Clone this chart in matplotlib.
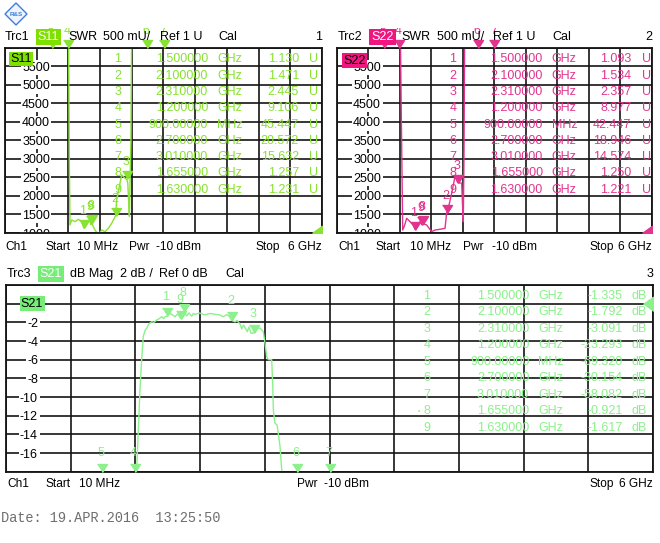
import numpy as np
import matplotlib.pyplot as plt
from matplotlib.patches import Polygon
from matplotlib.transforms import Bbox, TransformedBbox, IdentityTransform

plt.rcParams['font.family'] = ['Liberation Sans', 'DejaVu Sans']

W, H = 660, 543
fig = plt.figure(figsize=(W / 100, H / 100), dpi=100)
fig.patch.set_facecolor('white')

# sweep: 10 MHz .. 6 GHz
f_start, f_stop = 0.01, 6.0

# S11 SWR trace (GHz, mU)
s11_freq = [0.01, 0.5, 0.9, 1.1, 1.2, 1.225, 1.238, 1.27, 1.333, 1.395, 1.459, 1.5,
            1.554, 1.616, 1.63, 1.655, 1.679, 1.71, 1.773, 1.837, 1.9, 1.962, 2.026,
            2.1, 2.12, 2.183, 2.215, 2.26, 2.31, 2.33, 2.345, 2.36, 2.39, 2.41, 2.5,
            2.7, 3.01, 4.0, 6.0]
s11_swr = [80000, 60000, 45447, 20000, 9106, 3000, 1217, 1352, 1306, 1370, 1306, 1130,
           1280, 1333, 1231, 1257, 1170, 1081, 960, 1081, 1035, 1127, 1263,
           1471, 1894, 2346, 2571, 2500, 2445, 2346, 1894, 1450, 3500, 8000, 40000,
           20572, 15632, 40000, 60000]

# S22 SWR trace (GHz, mU)
s22_freq = [0.01, 0.5, 0.9, 1.1, 1.2, 1.24, 1.265, 1.3, 1.341, 1.404, 1.467, 1.5,
            1.55, 1.594, 1.63, 1.655, 1.72, 1.816, 1.879, 1.974, 2.07, 2.1, 2.132,
            2.197, 2.26, 2.31, 2.387, 2.406, 2.417, 2.43, 2.45, 2.7, 3.01, 4.0, 6.0]
s22_swr = [80000, 60000, 42447, 20000, 8977, 4000, 1081, 1200, 1398, 1306, 1217, 1093,
           1200, 1306, 1221, 1250, 1217, 1035, 1081, 1100, 1127, 1534, 1669,
           2075, 2525, 2357, 2346, 1623, 1306, 3000, 8000, 18946, 14574, 40000, 60000]

# S21 trace (GHz, dB)
s21_freq = [0.01, 0.5, 0.9, 1.1, 1.2, 1.23, 1.25, 1.266, 1.281, 1.30, 1.313, 1.33,
            1.359, 1.38, 1.405, 1.43, 1.451, 1.47, 1.482, 1.5, 1.528, 1.55, 1.575,
            1.60, 1.63, 1.655, 1.683, 1.705, 1.729, 1.745, 1.76, 1.8, 1.85, 1.9,
            1.95, 1.99, 2.02, 2.05, 2.07, 2.1, 2.13, 2.15, 2.177, 2.192, 2.21,
            2.244, 2.26, 2.28, 2.31, 2.33, 2.362, 2.392, 2.408, 2.424, 2.44, 2.47,
            2.48, 2.485, 2.5, 2.52, 2.547, 2.565, 2.7, 3.01, 4.0, 6.0]
s21_db = [-75, -72, -69.3, -40, -23.3, -15, -9.3, -6.0, -3.5, -2.8, -2.64, -2.2,
          -1.93, -2.0, -1.75, -1.6, -1.39, -1.6, -1.4, -1.335, -1.03, -1.2, -1.39,
          -1.1, -1.617, -0.921, -1.3, -1.0, -1.35, -1.05, -1.15, -1.0, -1.2, -1.05,
          -1.15, -1.2, -1.4, -1.2, -1.25, -1.792, -1.95, -1.8, -2.2, -2.7, -2.3,
          -3.0, -2.5, -3.2, -3.091, -2.7, -2.6, -3.0, -4.25, -5.7, -6.0, -6.0,
          -8.9, -11.4, -12.8, -13.0, -15.3, -18.2, -30.15, -58.08, -70, -75]

# marker table
marker_freq = [1.5, 2.1, 2.31, 1.2, 0.9, 2.7, 3.01, 1.655, 1.63]
marker_freq_txt = ['1.500000', '2.100000', '2.310000', '1.200000', '900.00000',
                   '2.700000', '3.010000', '1.655000', '1.630000']
marker_unit = ['GHz', 'GHz', 'GHz', 'GHz', 'MHz', 'GHz', 'GHz', 'GHz', 'GHz']
s11_marker_val = [1.130, 1.471, 2.445, 9.106, 45.447, 20.572, 15.632, 1.257, 1.231]
s22_marker_val = [1.093, 1.534, 2.357, 8.977, 42.447, 18.946, 14.574, 1.250, 1.221]
s21_marker_val = [-1.335, -1.792, -3.091, -23.293, -69.320, -30.154, -58.082, -0.921, -1.617]

swr_ticks = [1000, 1500, 2000, 2500, 3000, 3500, 4000, 4500, 5000, 5500, 6000]
swr_labels = ['1000', '1500', '2000', '2500', '3000', '3500', '4000', '4500', '5000', '5500', '']
db_ticks = [-18, -16, -14, -12, -10, -8, -6, -4, -2, 0, 2]
db_labels = ['', '-16', '-14', '-12', '-10', '-8', '-6', '-4', '-2', '0', '']

GREEN = '#88e232'
GREEN_BOX = '#7fe000'
PINK = '#e2348e'
PINK_BOX = '#f0167f'
MINT = '#8cf08c'
MINT_BOX = '#78ec78'
GRID = '#141414'
FS = 9

TRI = [(-1, 1.6), (1, 1.6), (0, 0)]        # tip at data point
REF = [(0, -1), (0, 1), (-1.4, 0)]          # ref arrow at right edge


def P(x, y):
    return x / W, 1 - y / H


def txt(x, y, s, ha='left', color='black', **kw):
    fig.text(*P(x, y), s, ha=ha, va='center', color=color, fontsize=kw.pop('fontsize', FS), **kw)


def panel(x0, y0, x1, y1, ticks, labels, lab_right):
    ax = fig.add_axes([x0 / W, 1 - y1 / H, (x1 - x0) / W, (y1 - y0) / H])
    ax.set_xlim(f_start, f_stop)
    ax.set_ylim(ticks[0], ticks[-1])
    ax.set_xticks(np.linspace(f_start, f_stop, 11))
    ax.set_yticks(ticks, labels)
    ax.grid(True, color=GRID, lw=1.2)
    ax.set_axisbelow(True)
    ax.tick_params(length=0, labelbottom=False, labelleft=True,
                   pad=-(lab_right - x0) * 0.72, labelsize=FS)
    for s in ax.spines.values():
        s.set_color(GRID)
        s.set_linewidth(1.3)
    for t in ax.yaxis.get_major_ticks():
        t.label1.set_bbox(dict(boxstyle='square,pad=0.12', fc='white', ec='none'))
        t.label1.set_clip_box(ax.bbox)
        t.label1.set_clip_on(True)
    return ax


def markers(ax, vals, color, dy, top_clip=None):
    lo, hi = ax.get_ylim()
    my = np.clip(vals, lo, hi)
    ax.plot(marker_freq, my, ls='none', marker=TRI, ms=11.5, color=color,
            clip_on=False, zorder=4)
    for i, (f, v) in enumerate(zip(marker_freq, my)):
        t = ax.annotate(str(i + 1), (f, v), xytext=(-1, dy), textcoords='offset pixels',
                        ha='center', va='center', color=color, fontsize=FS,
                        annotation_clip=False, zorder=4)
        if top_clip is not None and v >= hi:
            t.set_clip_box(TransformedBbox(Bbox([[0, H - 48], [W, H - top_clip]]),
                                           IdentityTransform()))
            t.set_clip_on(True)


def table(rows_y0, dy, cols, vals, unit, color):
    cn, cf, cu, cv, cu2 = cols
    for i in range(len(marker_freq)):
        y = rows_y0 + dy * i
        txt(cn, y, str(i + 1), ha='center', color=color)
        txt(cf, y, marker_freq_txt[i], ha='right', color=color)
        txt(cu, y, marker_unit[i], color=color)
        txt(cv, y, f'{vals[i]:.3f}', ha='right', color=color)
        txt(cu2, y, unit, color=color)


# ---- top left: S11 SWR
ax1 = panel(5, 47.7, 322, 233, swr_ticks, swr_labels, 50)
ax1.plot(s11_freq, s11_swr, color=GREEN, lw=1.0, zorder=2)
markers(ax1, np.array(s11_marker_val) * 1000, GREEN, 17, top_clip=28)
ax1.plot([f_stop], [1000], ls='none', marker=REF, ms=14.4, color=GREEN, zorder=4)
ax1.text(0.018, 0.94, 'S11', transform=ax1.transAxes, ha='left', va='center', fontsize=FS,
         bbox=dict(boxstyle='square,pad=0.1', fc=GREEN_BOX, ec='none'), zorder=6)
table(59.3, 16.3, (118, 208, 217, 299, 308.5), s11_marker_val, 'U', GREEN)

# ---- top right: S22 SWR
ax2 = panel(336.7, 47.7, 651.7, 233, swr_ticks, swr_labels, 381)
ax2.plot(s22_freq, s22_swr, color=PINK, lw=1.0, zorder=2)
markers(ax2, np.array(s22_marker_val) * 1000, PINK, 17, top_clip=28)
ax2.plot([f_stop], [1000], ls='none', marker=REF, ms=14.4, color=PINK, zorder=4)
ax2.text(0.022, 0.93, 'S22', transform=ax2.transAxes, ha='left', va='center', fontsize=FS,
         bbox=dict(boxstyle='square,pad=0.1', fc=PINK_BOX, ec='none'), zorder=6)
table(59.3, 16.3, (452.7, 542.7, 551.7, 631.5, 642), s22_marker_val, 'U', PINK)

# ---- bottom: S21 dB Mag
ax3 = panel(6, 285, 653, 471.7, db_ticks, db_labels, 38)
ax3.plot(s21_freq, s21_db, color=MINT, lw=1.0, zorder=2)
markers(ax3, s21_marker_val, MINT, 19)
ax3.plot([f_stop], [0], ls='none', marker=REF, ms=14.4, color=MINT, zorder=4)
ax3.text(0.023, 0.9, 'S21', transform=ax3.transAxes, ha='left', va='center', fontsize=FS,
         bbox=dict(boxstyle='square,pad=0.1', fc=MINT_BOX, ec='none'), zorder=6)
table(295.7, 16.5, (426.7, 529.3, 538, 622.7, 631.7), s21_marker_val, 'dB', MINT)
txt(418.5, 295.7 + 16.5 * 7, '•', ha='center', color=MINT, fontsize=5)

# ---- headers
box = lambda c: dict(boxstyle='square,pad=0.15', fc=c, ec='none')
txt(5, 37, 'Trc1')
txt(48.3, 37, 'S11', ha='center', color='white', bbox=box(GREEN_BOX))
txt(68, 37, 'SWR')
txt(103, 37, '500 mU/')
txt(160, 37, 'Ref 1 U')
txt(218, 37, 'Cal')
txt(322, 37, '1', ha='right')

txt(338, 37, 'Trc2')
txt(382.5, 37, 'S22', ha='center', color='white', bbox=box(PINK_BOX))
txt(401.7, 37, 'SWR')
txt(436.7, 37, '500 mU/')
txt(493, 37, 'Ref 1 U')
txt(552.7, 37, 'Cal')
txt(652, 37, '2', ha='right')

txt(7, 274, 'Trc3')
txt(51, 274, 'S21', ha='center', color='white', bbox=box(MINT_BOX))
txt(70, 274, 'dB Mag')
txt(120, 274, '2 dB /')
txt(159, 274, 'Ref 0 dB')
txt(225, 274, 'Cal')
txt(653, 274, '3', ha='right')

# ---- footers
for xs, y in [((5, 45, 77, 129, 156, 255, 322), 246.7),
              ((338, 376, 410, 463, 492, 589, 652), 246.7),
              ((7, 45.7, 79, 297, 324, 589, 653), 484)]:
    txt(xs[0], y, 'Ch1', fontsize=8.6)
    txt(xs[1], y, 'Start', fontsize=8.6)
    txt(xs[2], y, '10 MHz', fontsize=8.6)
    txt(xs[3], y, 'Pwr', fontsize=8.6)
    txt(xs[4], y, '-10 dBm', fontsize=8.6)
    txt(xs[5], y, 'Stop', fontsize=8.6)
    txt(xs[6], y, '6 GHz', ha='right', fontsize=8.6)

txt(1, 518, 'Date: 19.APR.2016  13:25:50', color='#6e6e6e',
    family=['Liberation Mono', 'DejaVu Sans Mono'], fontsize=9.8)

# ---- logo
cx, cy, r = 16, 14, 11
logo = Polygon([P(cx, cy - r), P(cx + r, cy), P(cx, cy + r), P(cx - r, cy)],
               closed=True, transform=fig.transFigure, fc='#eef4ff', ec='#3d7fd6', lw=1.0)
fig.patches.append(logo)
txt(cx, cy, 'R&S', ha='center', color='#3d7fd6', fontsize=4.5, fontweight='bold')

fig.savefig('out.png', dpi=100)
